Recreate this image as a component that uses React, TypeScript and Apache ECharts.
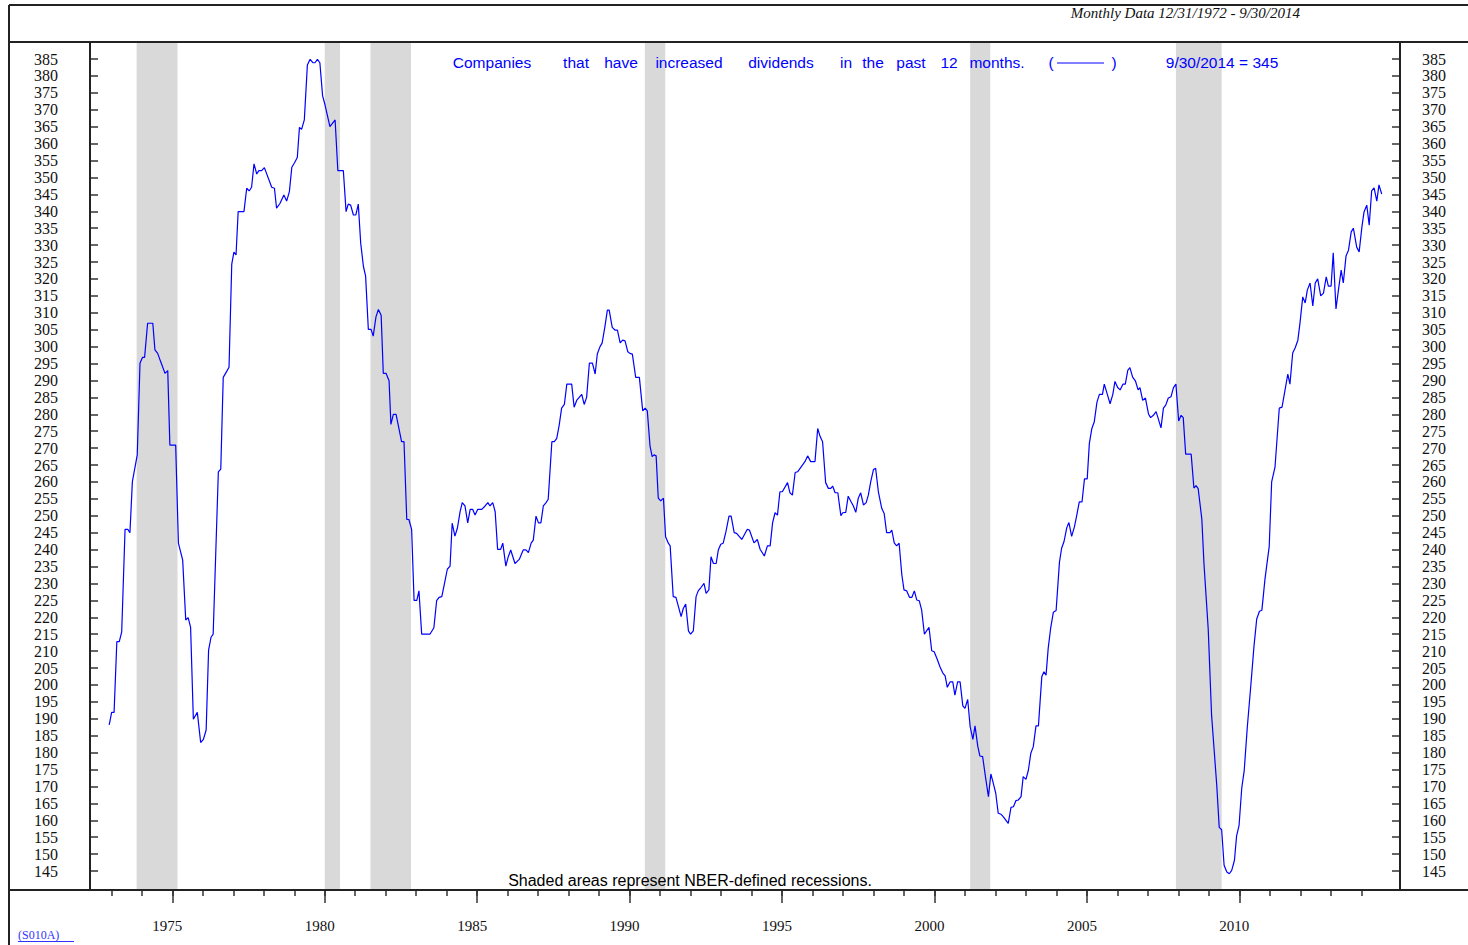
import React, { useEffect, useRef } from "react";
import * as echarts from "echarts";

// Companies that have increased dividends in the past 12 months (monthly)
const seg1973to1979: [number, number][] = [
  [1972.93,188.2],[1973.01,191.9],[1973.09,191.9],[1973.18,212.8],[1973.26,212.8],[1973.34,215.7],[1973.45,246.0],[1973.54,246.0],[1973.61,245.0],[1973.69,260.1],[1973.85,268.0],[1973.94,295.1],[1974.02,296.8],[1974.09,296.8],[1974.19,306.9],[1974.36,306.9],[1974.43,299.0],[1974.52,298.0],[1974.62,295.5],[1974.76,292.1],[1974.85,292.9],[1974.92,270.9],[1975.11,270.9],[1975.20,241.9],[1975.34,236.9],[1975.44,219.2],[1975.52,219.9],[1975.60,217.0],[1975.69,189.9],[1975.82,191.9],[1975.93,183.0],[1976.02,183.9],[1976.11,186.7],[1976.19,210.3],[1976.27,214.1],[1976.34,215.0],[1976.51,263.0],[1976.59,263.8],[1976.67,290.9],[1976.78,292.6],[1976.86,293.9],[1976.95,324.4],[1977.02,327.9],[1977.09,327.1],[1977.16,339.9],[1977.35,339.9],[1977.44,346.8],[1977.52,346.0],[1977.60,347.1],[1977.68,354.0],[1977.77,351.0],[1977.84,352.0],[1977.93,352.0],[1978.02,352.9],[1978.26,347.1],[1978.35,346.8],[1978.42,340.9],[1978.53,342.3],[1978.66,344.8],[1978.75,343.0],[1978.84,345.8],[1978.92,353.0],[1979.00,354.2],[1979.10,355.9],[1979.17,364.8],[1979.24,364.2],[1979.33,367.0],[1979.43,383.2],[1979.52,384.9],[1979.61,383.9],[1979.68,383.9],[1979.76,384.9],[1979.84,383.9],[1979.93,374.1]
];
const seg1980to1989: [number, number][] = [
  [1980.01,371.4],[1980.17,365.0],[1980.34,367.0],[1980.43,352.0],[1980.61,352.0],[1980.70,339.9],[1980.77,342.1],[1980.85,341.8],[1980.94,338.9],[1981.02,338.9],[1981.10,342.1],[1981.18,330.5],[1981.27,323.6],[1981.34,320.9],[1981.43,305.1],[1981.52,305.1],[1981.59,303.1],[1981.68,308.8],[1981.76,311.0],[1981.85,309.3],[1981.92,292.1],[1982.01,292.1],[1982.11,289.9],[1982.17,277.0],[1982.25,280.0],[1982.34,280.0],[1982.52,271.9],[1982.60,271.9],[1982.69,248.9],[1982.76,248.9],[1982.85,246.0],[1982.93,225.0],[1983.02,225.0],[1983.09,227.8],[1983.18,215.0],[1983.45,215.0],[1983.58,216.9],[1983.67,224.9],[1983.75,225.9],[1983.84,226.1],[1983.95,231.0],[1984.02,234.2],[1984.11,235.1],[1984.18,247.8],[1984.27,244.0],[1984.35,246.3],[1984.44,251.2],[1984.51,253.9],[1984.60,252.9],[1984.69,247.9],[1984.77,251.9],[1984.85,251.9],[1984.93,250.2],[1985.02,251.9],[1985.15,251.9],[1985.26,252.9],[1985.35,253.9],[1985.42,252.9],[1985.51,253.9],[1985.59,251.2],[1985.67,240.1],[1985.77,240.1],[1985.84,241.9],[1985.94,235.1],[1986.02,237.9],[1986.10,239.9],[1986.17,237.9],[1986.24,235.9],[1986.38,237.1],[1986.51,239.9],[1986.60,239.9],[1986.68,239.1],[1986.77,241.9],[1986.84,242.8],[1986.93,249.9],[1987.01,247.9],[1987.09,247.9],[1987.17,252.9],[1987.26,253.9],[1987.33,254.9],[1987.45,271.9],[1987.53,271.9],[1987.61,272.9],[1987.69,276.8],[1987.77,281.8],[1987.86,282.9],[1987.94,288.9],[1988.10,288.9],[1988.18,282.1],[1988.27,284.2],[1988.43,285.9],[1988.51,282.9],[1988.59,285.0],[1988.68,295.1],[1988.78,295.1],[1988.87,291.9],[1988.94,297.8],[1989.03,300.0],[1989.10,301.1],[1989.19,305.9],[1989.27,310.8],[1989.33,310.8],[1989.43,305.7],[1989.52,304.9],[1989.60,304.9],[1989.69,301.1],[1989.77,301.9],[1989.85,301.7],[1989.94,298.5]
];
const seg1990to1999: [number, number][] = [
  [1990.01,298.0],[1990.09,297.8],[1990.20,290.9],[1990.32,290.9],[1990.43,281.0],[1990.51,281.8],[1990.58,281.0],[1990.67,270.6],[1990.74,267.5],[1990.80,268.0],[1990.87,267.7],[1990.94,255.2],[1991.02,254.4],[1991.11,255.2],[1991.18,243.8],[1991.27,241.9],[1991.33,241.1],[1991.43,226.1],[1991.52,225.9],[1991.69,220.2],[1991.76,222.6],[1991.84,223.9],[1991.93,216.0],[1992.00,215.0],[1992.09,216.0],[1992.18,226.1],[1992.25,227.8],[1992.34,228.8],[1992.44,230.0],[1992.51,227.1],[1992.60,228.1],[1992.67,237.9],[1992.75,235.9],[1992.84,235.9],[1992.91,239.9],[1992.99,241.6],[1993.07,241.9],[1993.16,245.3],[1993.26,249.9],[1993.33,249.9],[1993.43,245.0],[1993.51,244.8],[1993.68,243.0],[1993.86,246.0],[1993.93,245.8],[1994.08,242.0],[1994.19,243.0],[1994.28,240.1],[1994.42,238.1],[1994.52,241.1],[1994.61,241.1],[1994.69,247.9],[1994.77,250.9],[1994.85,250.2],[1994.93,257.1],[1995.01,257.1],[1995.18,259.8],[1995.26,256.8],[1995.34,256.1],[1995.43,262.8],[1995.51,263.0],[1995.75,266.0],[1995.84,267.7],[1995.94,266.0],[1996.08,266.0],[1996.17,275.8],[1996.25,273.4],[1996.33,271.9],[1996.43,259.8],[1996.52,258.1],[1996.60,258.1],[1996.66,258.8],[1996.74,256.8],[1996.83,256.8],[1996.93,250.0],[1996.99,250.9],[1997.09,251.0],[1997.17,255.8],[1997.26,254.2],[1997.34,252.9],[1997.42,251.0],[1997.50,255.2],[1997.58,256.8],[1997.67,253.2],[1997.76,253.9],[1997.83,256.1],[1997.91,260.1],[1998.00,263.7],[1998.07,264.0],[1998.16,257.1],[1998.27,252.2],[1998.35,250.7],[1998.43,245.0],[1998.54,245.0],[1998.60,245.8],[1998.68,242.0],[1998.76,241.1],[1998.84,241.9],[1998.93,232.5],[1999.00,228.1],[1999.09,227.8],[1999.18,225.9],[1999.26,225.9],[1999.34,227.8],[1999.42,225.1],[1999.50,224.9],[1999.58,222.1],[1999.67,215.0],[1999.74,216.0],[1999.82,217.0],[1999.91,210.1],[1999.99,209.8]
];
const seg2000to2009: [number, number][] = [
  [2000.09,207.6],[2000.18,205.4],[2000.27,203.6],[2000.35,202.7],[2000.42,199.3],[2000.51,200.9],[2000.60,200.9],[2000.67,197.0],[2000.76,200.9],[2000.84,200.9],[2000.93,193.8],[2001.00,193.1],[2001.09,195.7],[2001.17,187.7],[2001.26,183.9],[2001.33,187.9],[2001.42,181.9],[2001.49,179.0],[2001.58,178.8],[2001.68,172.4],[2001.77,167.0],[2001.85,173.7],[2001.93,170.9],[2002.01,168.0],[2002.09,162.1],[2002.18,161.8],[2002.26,161.0],[2002.42,159.1],[2002.51,163.8],[2002.59,164.0],[2002.67,165.8],[2002.75,166.0],[2002.84,167.0],[2002.91,172.9],[2003.00,172.1],[2003.08,174.8],[2003.16,179.8],[2003.24,181.7],[2003.33,187.9],[2003.41,187.9],[2003.52,202.4],[2003.59,203.9],[2003.66,202.9],[2003.73,210.8],[2003.81,216.7],[2003.90,221.5],[2003.99,222.0],[2004.10,236.3],[2004.17,240.4],[2004.25,242.4],[2004.34,246.5],[2004.41,248.0],[2004.50,243.9],[2004.59,246.7],[2004.67,250.3],[2004.75,254.1],[2004.84,254.1],[2004.92,260.9],[2005.01,260.9],[2005.08,271.4],[2005.16,275.7],[2005.24,277.7],[2005.33,283.6],[2005.41,285.9],[2005.51,285.9],[2005.57,288.9],[2005.67,285.9],[2005.76,283.1],[2005.85,285.9],[2005.92,289.7],[2006.01,287.9],[2006.09,287.2],[2006.18,288.9],[2006.26,288.9],[2006.34,293.0],[2006.41,293.8],[2006.50,291.0],[2006.59,289.9],[2006.68,287.2],[2006.74,287.9],[2006.83,284.1],[2006.92,284.8],[2007.02,280.1],[2007.09,279.0],[2007.18,279.7],[2007.27,280.8],[2007.34,278.7],[2007.43,276.0],[2007.51,281.8],[2007.59,282.8],[2007.67,284.8],[2007.76,285.2],[2007.84,287.9],[2007.92,288.9],[2008.01,278.0],[2008.09,279.7],[2008.16,279.0],[2008.24,268.2],[2008.42,268.2],[2008.51,258.2],[2008.58,258.9],[2008.65,258.0],[2008.77,249.0],[2008.84,235.8],[2008.98,216.4],[2009.09,191.0],[2009.26,170.2],[2009.34,157.9],[2009.42,157.2],[2009.50,146.7],[2009.59,144.7],[2009.67,144.2],[2009.75,145.2],[2009.84,148.2],[2009.91,155.4],[2009.99,158.4]
];
const seg2010to2014: [number, number][] = [
  [2010.08,169.6],[2010.16,174.7],[2010.26,187.4],[2010.38,200.2],[2010.48,211.4],[2010.57,219.5],[2010.66,221.8],[2010.74,222.1],[2010.84,231.2],[2010.92,236.8],[2010.98,240.9],[2011.06,260.0],[2011.17,264.4],[2011.31,281.8],[2011.40,282.1],[2011.50,287.2],[2011.59,291.9],[2011.66,288.9],[2011.75,298.1],[2011.83,299.6],[2011.92,301.9],[2011.99,307.0],[2012.08,314.7],[2012.16,312.9],[2012.23,316.7],[2012.32,318.8],[2012.41,312.0],[2012.49,318.8],[2012.57,320.0],[2012.67,315.0],[2012.76,315.8],[2012.85,320.6],[2012.92,317.9],[2013.01,317.9],[2013.08,327.7],[2013.17,311.1],[2013.25,316.7],[2013.34,322.6],[2013.41,318.8],[2013.50,326.8],[2013.58,328.5],[2013.67,333.9],[2013.74,335.0],[2013.85,329.4],[2013.93,328.0],[2014.02,335.3],[2014.09,339.8],[2014.18,341.8],[2014.26,335.9],[2014.34,346.0],[2014.42,346.9],[2014.51,343.0],[2014.58,347.8],[2014.67,345.1]
];

// NBER recessions (start, end) in decimal years
const recessions: [number, number][] = [
  [1973.83, 1975.17], [1980.0, 1980.5], [1981.5, 1982.83],
  [1990.5, 1991.17], [2001.17, 2001.83], [2007.92, 2009.42],
];

const yTicks = [145,150,155,160,165,170,175,180,185,190,195,200,205,210,215,220,225,230,235,240,245,250,255,260,265,270,275,280,285,290,295,300,305,310,315,320,325,330,335,340,345,350,355,360,365,370,375,380,385];
const xYearTicks = [1973,1974,1975,1976,1977,1978,1979,1980,1981,1982,1983,1984,1985,1986,1987,1988,1989,1990,1991,1992,1993,1994,1995,1996,1997,1998,1999,2000,2001,2002,2003,2004,2005,2006,2007,2008,2009,2010,2011,2012,2013,2014];
const xLabelYears = [1975,1980,1985,1990,1995,2000,2005,2010];

const headerText = "Monthly Data 12/31/1972 - 9/30/2014";
const titleWords = ["Companies","that","have","increased","dividends","in","the","past","12","months."];
const lastValueText = "9/30/2014 = 345";
const noteText = "Shaded areas represent NBER-defined recessions.";
const codeText = "(S010A)";

// layout (pixel centres of the title words)
const titleWordCenters = [492, 576, 621, 689, 781, 846, 873, 911, 949, 997];

const X_MIN = 1972.3;
const X_MAX = 2015.27;
const Y_MIN = 139.4;
const Y_MAX = 389.73;

export default function App() {
  const ref = useRef<HTMLDivElement>(null);
  useEffect(() => {
    if (!ref.current) return;
    const chart = echarts.init(ref.current, undefined, { renderer: "svg" });
    const lineData = [...seg1973to1979, ...seg1980to1989, ...seg1990to1999, ...seg2000to2009, ...seg2010to2014];
    const frame = "#222";
    const blue = "#0000ff";
    const serif = "'Liberation Serif', 'Times New Roman', serif";
    const sans = "'Liberation Sans', Arial, sans-serif";

    const lines = [
      [9, 5, 1468, 5],
      [9, 5, 9, 945],
      [9, 42, 1468, 42],
      [9, 890, 1468, 890],
      [90, 42, 90, 890],
      [1400, 42, 1400, 890],
    ].map(([x1, y1, x2, y2]) => ({
      type: "line",
      z: 100,
      silent: true,
      shape: { x1, y1, x2, y2 },
      style: { stroke: frame, lineWidth: 2 },
    }));

    const texts: any[] = [
      {
        type: "text", z: 100, x: 1300, y: 13,
        style: { text: headerText, font: `italic 15px ${serif}`, fill: "#111", textAlign: "right", textVerticalAlign: "middle" },
      },
      ...titleWords.map((w, i) => ({
        type: "text", z: 100, x: titleWordCenters[i], y: 62,
        style: { text: w, font: `15.5px ${sans}`, fill: blue, textAlign: "center", textVerticalAlign: "middle" },
      })),
      { type: "text", z: 100, x: 1051, y: 62, style: { text: "(", font: `15.5px ${sans}`, fill: blue, textAlign: "center", textVerticalAlign: "middle" } },
      { type: "line", z: 100, shape: { x1: 1057, y1: 63, x2: 1104, y2: 63 }, style: { stroke: blue, lineWidth: 1.2 } },
      { type: "text", z: 100, x: 1114, y: 62, style: { text: ")", font: `15.5px ${sans}`, fill: blue, textAlign: "center", textVerticalAlign: "middle" } },
      { type: "text", z: 100, x: 1222, y: 62, style: { text: lastValueText, font: `15.5px ${sans}`, fill: blue, textAlign: "center", textVerticalAlign: "middle" } },
      { type: "text", z: 100, x: 690, y: 880, style: { text: noteText, font: `16px ${sans}`, fill: "#000", textAlign: "center", textVerticalAlign: "middle" } },
      { type: "text", z: 100, x: 18, y: 935, style: { text: codeText, font: `12px ${serif}`, fill: "#3333ff", textAlign: "left", textVerticalAlign: "middle" } },
      { type: "line", z: 100, shape: { x1: 18, y1: 941.5, x2: 74, y2: 941.5 }, style: { stroke: "#3333ff", lineWidth: 1 } },
    ];

    const yAxisCommon = {
      type: "value",
      min: Y_MIN,
      max: Y_MAX,
      axisLine: { show: false },
      splitLine: { show: false },
      axisTick: { show: true, inside: true, length: 8, customValues: yTicks, lineStyle: { color: "#333", width: 1.5 } },
    };

    chart.setOption({
      animation: false,
      backgroundColor: "#fff",
      grid: { left: 90, top: 43, width: 1310, height: 847, containLabel: false },
      xAxis: [
        {
          type: "value", position: "bottom", min: X_MIN, max: X_MAX,
          axisLine: { show: false }, splitLine: { show: false },
          axisTick: { show: true, inside: false, length: 6, customValues: xYearTicks, lineStyle: { color: "#333", width: 1.5 } },
          axisLabel: { show: false },
        },
        {
          type: "value", position: "bottom", min: X_MIN, max: X_MAX,
          axisLine: { show: false }, splitLine: { show: false },
          axisTick: { show: true, inside: false, length: 13, customValues: xLabelYears, lineStyle: { color: "#333", width: 1.5 } },
          axisLabel: {
            show: true, customValues: xLabelYears, margin: 28, color: "#111",
            fontFamily: serif, fontSize: 15, padding: [0, 10, 0, 0],
            formatter: (v: number) => String(Math.round(v)),
          },
        },
      ],
      yAxis: [
        {
          ...yAxisCommon, position: "left",
          axisLabel: { show: true, customValues: yTicks, margin: 32, color: "#111", fontFamily: serif, fontSize: 16, formatter: (v: number) => String(Math.round(v)) },
        },
        {
          ...yAxisCommon, position: "right",
          axisLabel: { show: true, customValues: yTicks, margin: 22, color: "#111", fontFamily: serif, fontSize: 16, formatter: (v: number) => String(Math.round(v)) },
        },
      ],
      series: [
        {
          type: "line", xAxisIndex: 0, yAxisIndex: 0, data: [], z: 1, silent: true,
          markArea: {
            silent: true,
            itemStyle: { color: "#d9d9d9" },
            data: recessions.map(([s, e]) => [{ xAxis: s }, { xAxis: e }]),
          },
        },
        {
          type: "line", xAxisIndex: 0, yAxisIndex: 0, data: lineData, z: 3,
          showSymbol: false, symbol: "none", smooth: false,
          lineStyle: { color: blue, width: 1.2 },
        },
      ],
      graphic: { elements: [...lines, ...texts] },
    });
    return () => chart.dispose();
  }, []);
  return <div ref={ref} style={{ position: "absolute", left: 0, top: 0, width: 1468, height: 945 }} />;
}
